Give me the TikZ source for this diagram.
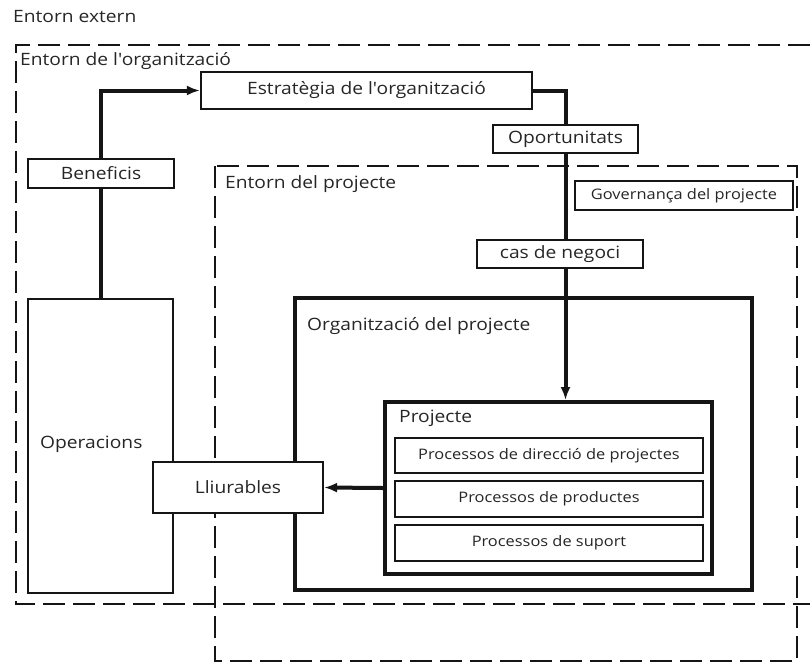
\documentclass[tikz,border=0pt]{standalone}
\usepackage{fontspec}
\setmainfont{Open Sans}[FakeStretch=1.13]
\usetikzlibrary{arrows.meta}

\definecolor{ink}{HTML}{151515}
\definecolor{txt}{HTML}{262626}

\tikzset{
  env/.style={draw=ink, line width=2.4pt, dash pattern=on 22pt off 8pt},
  box/.style={draw=ink, line width=2.2pt, fill=white, inner sep=0pt, text=txt,
              font=\fontsize{17}{20}\selectfont},
  smallbox/.style={box, font=\fontsize{14.5}{17}\selectfont},
  thickbox/.style={draw=ink, line width=4pt, fill=white, inner sep=0pt},
  title/.style={anchor=base west, inner sep=0pt, text=txt,
                font=\fontsize{17}{20}\selectfont},
  conn/.style={draw=ink, line width=4pt},
  tip/.style={-{Latex[length=13pt,width=10pt]}}
}

\begin{document}
\begin{tikzpicture}[x=1pt, y=-1pt]
  \useasboundingbox (0,0) rectangle (810,664);

  % outer environment
  \node[title] (extern) at (13,22) {Entorn extern};

  % organisation environment (runs off the right edge)
  \draw[env] (810,45) -- (16,45) -- (16,604) -- (810,604);
  \node[title] (orgenv) at (20,65) {Entorn de l\textquotesingle organització};

  % project environment
  \draw[env] (215,166) rectangle (797,661);
  \node[title] (projenv) at (225,188) {Entorn del projecte};

  % boxes
  \node[box, minimum width=331pt, minimum height=37pt] (strat) at (366.5,90.5) {Estratègia de l\textquotesingle organització};
  \node[box, minimum width=145pt, minimum height=28pt] (opor) at (565.5,139) {Oportunitats};
  \node[smallbox, minimum width=218pt, minimum height=29pt] (gov) at (684,195.5) {Governança del projecte};
  \node[box, minimum width=166pt, minimum height=28pt] (cas) at (560,254) {cas de negoci};
  \node[box, minimum width=146pt, minimum height=29pt] (ben) at (101,173.5) {Beneficis};
  \node[box, minimum width=145pt, minimum height=294pt] (ops) at (100.5,446) {};
  \node[title] (opslabel) at (40,448) {Operacions};

  \node[thickbox, minimum width=457pt, minimum height=292pt] (orgp) at (523.5,444) {};
  \node[title] (orgplabel) at (307,330) {Organització del projecte};

  \node[thickbox, minimum width=327pt, minimum height=172pt] (proj) at (548.5,488) {};
  \node[title] (projlabel) at (399,422) {Projecte};

  \node[smallbox, minimum width=308pt, minimum height=35pt] (p1) at (549,455.5) {Processos de direcció de projectes};
  \node[smallbox, minimum width=308pt, minimum height=36pt] (p2) at (549,499) {Processos de productes};
  \node[smallbox, minimum width=308pt, minimum height=36pt] (p3) at (549,543) {Processos de suport};

  \node[box, minimum width=170pt, minimum height=51pt] (lliu) at (238,487.5) {Lliurables};

  % connectors
  \draw[conn] (ops.north) -- (ops.north |- ben.south);
  \draw[conn, tip] (ops.north |- ben.north) |- (strat.west);
  \draw[conn] (strat.east) -| (opor.north);
  \draw[conn] (opor.south) -- (opor.south |- cas.north);
  \draw[conn, tip] (opor.south |- cas.south) -- (opor.south |- proj.north);
  \draw[conn, tip] (proj.west) -- (lliu.east);
\end{tikzpicture}
\end{document}
